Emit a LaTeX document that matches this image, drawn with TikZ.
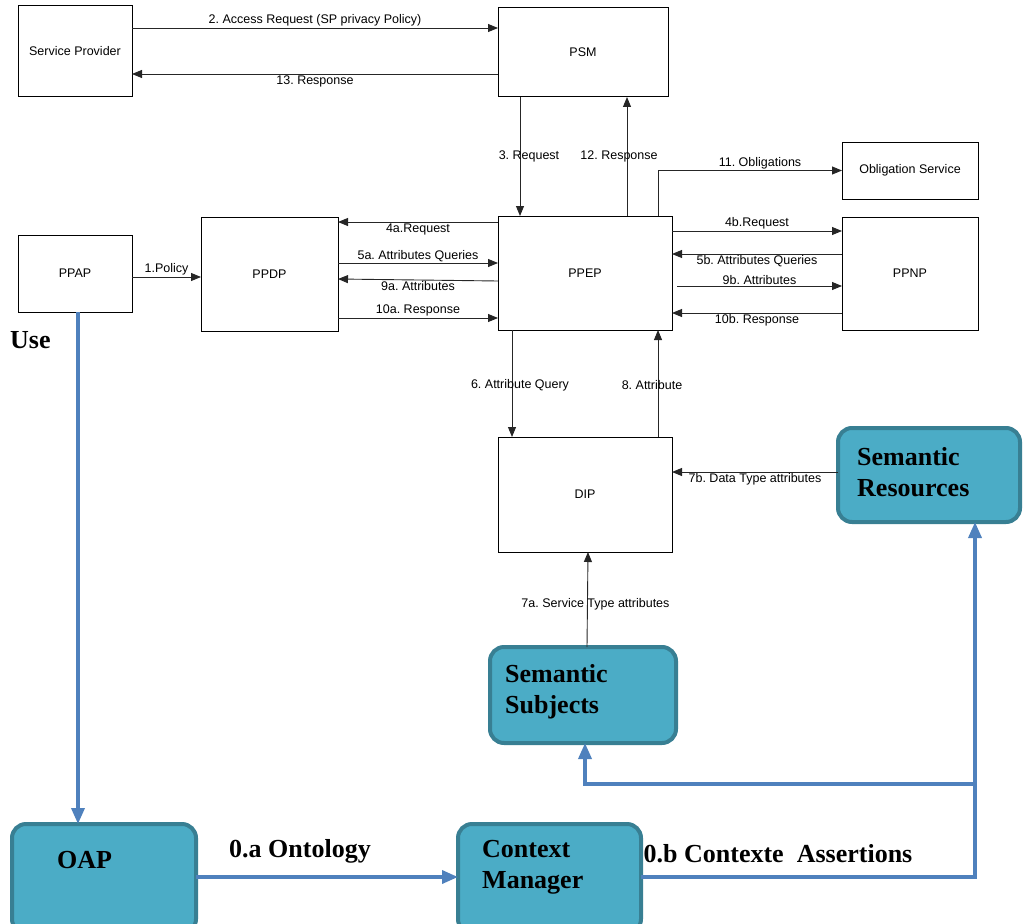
\documentclass[tikz,border=0pt]{standalone}
\usepackage{fontspec}
\setmainfont{Liberation Serif}
\newfontfamily\arialf{Liberation Sans}
\usetikzlibrary{arrows.meta}
\definecolor{tealfill}{HTML}{4BACC6}
\definecolor{tealdraw}{HTML}{387F93}
\definecolor{bluline}{HTML}{4F81BD}
\frenchspacing
\tikzset{
  box/.style={draw=black, line width=1pt, inner sep=0pt, outer sep=0pt, font=\arialf\fontsize{12.5}{14}\selectfont},
  tbox/.style={draw=tealdraw, fill=tealfill, line width=4pt, rounded corners=14pt, inner sep=0pt, outer sep=0pt},
  big/.style={font=\bfseries\fontsize{26}{31}\selectfont, align=left, inner sep=0pt},
  arr/.style={draw=black!85, line width=0.9pt, -{Triangle[length=10pt,width=8pt]}},
  lbl/.style={font=\arialf\fontsize{12.5}{14}\selectfont, inner sep=1pt},
  blu/.style={draw=bluline, line width=3.5pt, -{Triangle[length=16pt,width=13pt]}},
}
\begin{document}
\begin{tikzpicture}[x=1pt,y=-1pt]
\useasboundingbox (0,0) rectangle (1024,923);
% plain boxes
\node[box, minimum width=114pt, minimum height=91pt] (sp) at (75,51.5) {Service Provider};
\node[box, minimum width=170pt, minimum height=89pt] (psm) at (583,52.5) {PSM};
\node[box, minimum width=136pt, minimum height=57pt] (obs) at (910,170.5) {Obligation Service};
\node[box, minimum width=174pt, minimum height=114pt] (ppep) at (585,273) {PPEP};
\node[box, minimum width=136pt, minimum height=113pt] (ppnp) at (910,273.5) {PPNP};
\node[box, minimum width=137pt, minimum height=114pt] (ppdp) at (269.5,274) {PPDP};
\node[box, minimum width=114pt, minimum height=77pt] (ppap) at (75,273.5) {PPAP};
\node[box, minimum width=174pt, minimum height=115pt] (dip) at (585,494.5) {DIP};
% teal boxes
\node[tbox, minimum width=182pt, minimum height=94pt] (semres) at (929,475) {};
\node[big, anchor=west] (semrestxt) at (857,472) {Semantic\\Resources};
\node[tbox, minimum width=186pt, minimum height=96pt] (semsub) at (583,695) {};
\node[big, anchor=west] (semsubtxt) at (505,692) {Semantic\\Subjects};
\node[tbox, minimum width=184pt, minimum height=109pt] (oap) at (104,878.5) {};
\node[big, anchor=west] (oaptxt) at (57,860) {OAP};
\node[tbox, minimum width=183pt, minimum height=109pt] (cm) at (549.5,878.5) {};
\node[big, anchor=west] (cmtxt) at (482,867) {Context\\Manager};
\node[big, anchor=west] (use) at (10,340) {Use};
% black connectors
\draw[arr] (sp.east |- 0,28) -- node[lbl, above] {2. Access Request (SP privacy Policy)} (psm.west |- 0,28);
\draw[arr] (psm.west |- 0,74) -- node[lbl, below] {13. Response} (sp.east |- 0,74);
\draw[arr] (psm.south -| 520,0) -- node[lbl, xshift=9pt] {3. Request} (ppep.north -| 520,0);
\draw[arr] (ppep.north -| 627,0) -- node[lbl, xshift=-8pt] {12. Response} (psm.south -| 627,0);
\draw[arr] (ppep.north -| 658,0) |- node[lbl, above, pos=0.75, xshift=10pt] {11. Obligations} (obs.west);
\draw[arr] (ppep.east |- 0,231) -- node[lbl, above] {4b.Request} (ppnp.west |- 0,231);
\draw[arr] (ppnp.west |- 0,254) -- node[lbl, below] {5b. Attributes Queries} (ppep.east |- 0,254);
\draw[arr] ([xshift=5pt]ppep.east |- 0,286) -- node[lbl, above] {9b. Attributes} (ppnp.west |- 0,286);
\draw[arr] (ppnp.west |- 0,313) -- node[lbl, below] {10b. Response} (ppep.east |- 0,313);
\draw[arr] (ppep.west |- 0,222) -- node[lbl, below] {4a.Request} (ppdp.east |- 0,222);
\draw[arr] (ppdp.east |- 0,263) -- node[lbl, above] {5a. Attributes Queries} (ppep.west |- 0,263);
\draw[arr] (ppep.west |- 0,281) -- node[lbl, below] {9a. Attributes} (ppdp.east |- 0,279);
\draw[arr] (ppdp.east |- 0,318) -- node[lbl, above] {10a. Response} (ppep.west |- 0,318);
\draw[arr] (ppap.east |- 0,277) -- node[lbl, above] {1.Policy} (ppdp.west |- 0,277);
\draw[arr] (ppep.south -| 512,0) -- node[lbl, xshift=8pt, yshift=-2pt] {6. Attribute Query} (dip.north -| 512,0);
\draw[arr] (dip.north -| 658,0) -- node[lbl, xshift=-6pt, yshift=-2pt] {8. Attribute} (ppep.south -| 658,0);
\draw[arr] (semres.west |- 0,472) -- node[lbl, below] {7b. Data Type attributes} (dip.east |- 0,472);
\draw[arr] (semsub.north -| 587,0) -- node[lbl, xshift=8pt, pos=0.45] {7a. Service Type attributes} (dip.south -| 588,0);
% blue connectors
\draw[blu] (ppap.south -| 78,0) -- (oap.north -| 78,0);
\draw[blu] (oap.east |- 0,877) -- node[big, above=12pt, xshift=-27pt] {0.a Ontology} (cm.west |- 0,877);
\coordinate (br) at (975,784);
\draw[blu] (cm.east |- 0,877) -| node[big, pos=0.25, above=12pt, xshift=-30pt] {0.b Contexte\ \ Assertions} (semres.south -| 975,0);
\draw[blu] (br) -| (semsub.south -| 585,0);
\end{tikzpicture}
\end{document}
